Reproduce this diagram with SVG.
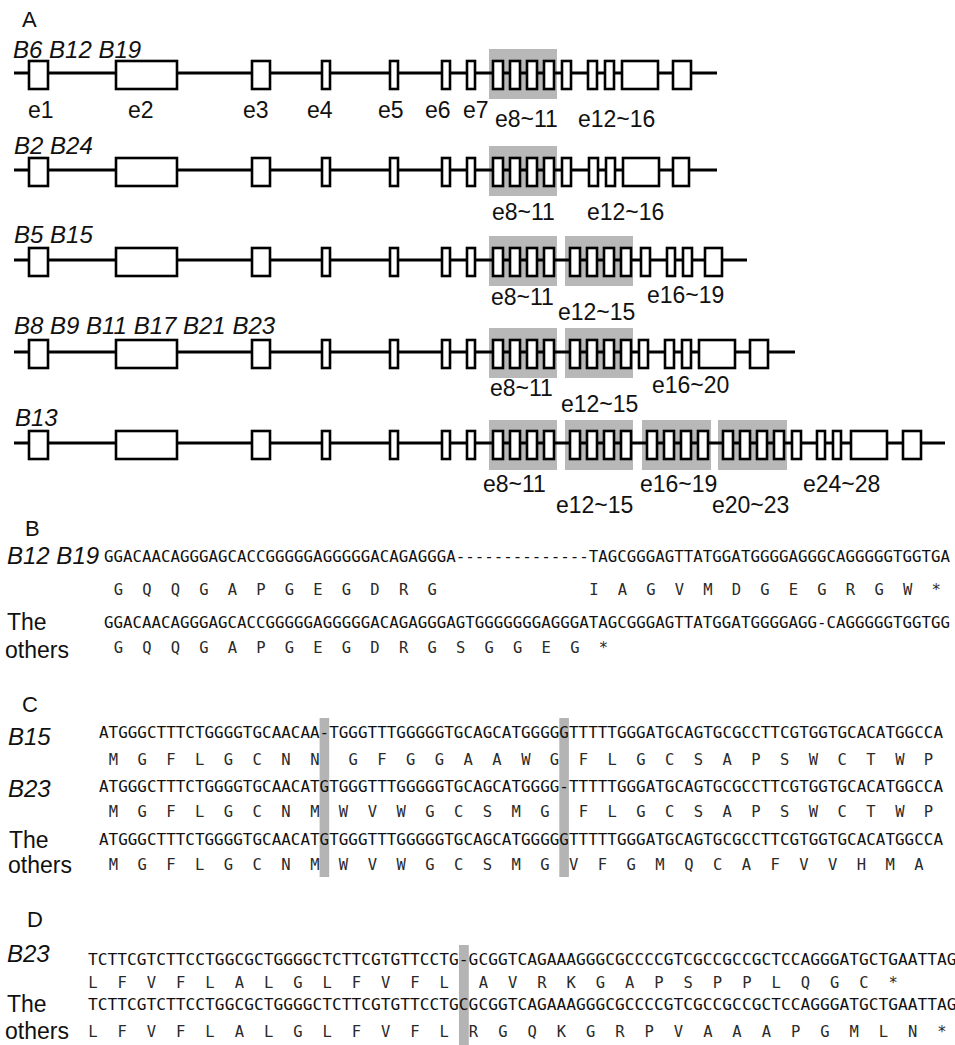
<svg xmlns="http://www.w3.org/2000/svg" width="955" height="1045" viewBox="0 0 955 1045">
<style>
.bb{stroke:#000;stroke-width:3;fill:none}
.ex{fill:#fff;stroke:#000;stroke-width:2.6}
.hl{fill:#b8b8b8}
.lab{font-family:"Liberation Sans",Arial,sans-serif;font-size:23px;fill:#111}
.it{font-style:italic;font-size:24px}
.pl{font-family:"Liberation Sans",Arial,sans-serif;font-size:22px;fill:#111}
.seq{font-family:"DejaVu Sans Mono","Liberation Mono",monospace;fill:#111}
.sb{font-size:15.8px}
.sc{font-size:15.9px}
.sd{font-size:16.2px}
.aa{font-family:"DejaVu Sans Mono","Liberation Mono",monospace;font-size:15.5px;fill:#2a2a2a;text-anchor:middle}
.bar{fill:#b4b4b4}
</style>
<rect width="955" height="1045" fill="#fff"/>

<g id="panelA">
<text class="pl" x="22" y="27">A</text>

<g id="row1">
<rect class="hl" x="489" y="49" width="68" height="50"/>
<line class="bb" x1="14" y1="73" x2="717" y2="73"/>
<rect class="ex" x="29" y="61" width="19" height="28"/>
<rect class="ex" x="116" y="61" width="61" height="28"/>
<rect class="ex" x="252" y="61" width="18" height="28"/>
<rect class="ex" x="322" y="61" width="8" height="28"/>
<rect class="ex" x="390" y="61" width="8" height="28"/>
<rect class="ex" x="442" y="61" width="8" height="28"/>
<rect class="ex" x="467" y="61" width="8" height="28"/>
<rect class="ex" x="493" y="61" width="10" height="28"/>
<rect class="ex" x="510" y="61" width="10" height="28"/>
<rect class="ex" x="527" y="61" width="10" height="28"/>
<rect class="ex" x="544" y="61" width="10" height="28"/>
<rect class="ex" x="562" y="61" width="9" height="28"/>
<rect class="ex" x="588" y="61" width="9" height="28"/>
<rect class="ex" x="605" y="61" width="9" height="28"/>
<rect class="ex" x="622" y="61" width="36" height="28"/>
<rect class="ex" x="673" y="61" width="18" height="28"/>
<text class="lab it" x="13" y="58">B6 B12 B19</text>
<text class="lab" x="28" y="118">e1</text>
<text class="lab" x="128" y="118">e2</text>
<text class="lab" x="243" y="118">e3</text>
<text class="lab" x="307" y="118">e4</text>
<text class="lab" x="378" y="118">e5</text>
<text class="lab" x="425" y="118">e6</text>
<text class="lab" x="463" y="118">e7</text>
<text class="lab" x="495" y="127">e8~11</text>
<text class="lab" x="578" y="127">e12~16</text>
</g>

<g id="row2">
<rect class="hl" x="489" y="146" width="68" height="50"/>
<line class="bb" x1="14" y1="170" x2="717" y2="170"/>
<rect class="ex" x="29" y="158" width="19" height="28"/>
<rect class="ex" x="116" y="158" width="61" height="28"/>
<rect class="ex" x="252" y="158" width="18" height="28"/>
<rect class="ex" x="322" y="158" width="8" height="28"/>
<rect class="ex" x="390" y="158" width="8" height="28"/>
<rect class="ex" x="442" y="158" width="8" height="28"/>
<rect class="ex" x="467" y="158" width="8" height="28"/>
<rect class="ex" x="493" y="158" width="10" height="28"/>
<rect class="ex" x="510" y="158" width="10" height="28"/>
<rect class="ex" x="527" y="158" width="10" height="28"/>
<rect class="ex" x="544" y="158" width="10" height="28"/>
<rect class="ex" x="562" y="158" width="9" height="28"/>
<rect class="ex" x="589" y="158" width="9" height="28"/>
<rect class="ex" x="606" y="158" width="9" height="28"/>
<rect class="ex" x="623" y="158" width="36" height="28"/>
<rect class="ex" x="673" y="158" width="16" height="28"/>
<text class="lab it" x="14" y="154">B2 B24</text>
<text class="lab" x="492" y="220">e8~11</text>
<text class="lab" x="587" y="220">e12~16</text>
</g>

<g id="row3">
<rect class="hl" x="489" y="236" width="68" height="50"/>
<rect class="hl" x="565" y="236" width="68" height="50"/>
<line class="bb" x1="14" y1="260" x2="747" y2="260"/>
<rect class="ex" x="29" y="248" width="19" height="28"/>
<rect class="ex" x="116" y="248" width="61" height="28"/>
<rect class="ex" x="252" y="248" width="18" height="28"/>
<rect class="ex" x="322" y="248" width="8" height="28"/>
<rect class="ex" x="390" y="248" width="8" height="28"/>
<rect class="ex" x="442" y="248" width="8" height="28"/>
<rect class="ex" x="467" y="248" width="8" height="28"/>
<rect class="ex" x="493" y="248" width="10" height="28"/>
<rect class="ex" x="510" y="248" width="10" height="28"/>
<rect class="ex" x="527" y="248" width="10" height="28"/>
<rect class="ex" x="544" y="248" width="10" height="28"/>
<rect class="ex" x="570" y="248" width="10" height="28"/>
<rect class="ex" x="587" y="248" width="10" height="28"/>
<rect class="ex" x="604" y="248" width="10" height="28"/>
<rect class="ex" x="621" y="248" width="10" height="28"/>
<rect class="ex" x="641" y="248" width="9" height="28"/>
<rect class="ex" x="667" y="248" width="8" height="28"/>
<rect class="ex" x="683" y="248" width="9" height="28"/>
<rect class="ex" x="705" y="248" width="17" height="28"/>
<text class="lab it" x="14" y="243">B5 B15</text>
<text class="lab" x="491" y="305">e8~11</text>
<text class="lab" x="558" y="320">e12~15</text>
<text class="lab" x="647" y="303">e16~19</text>
</g>

<g id="row4">
<rect class="hl" x="489" y="328" width="68" height="50"/>
<rect class="hl" x="565" y="328" width="68" height="50"/>
<line class="bb" x1="14" y1="352" x2="795" y2="352"/>
<rect class="ex" x="29" y="340" width="19" height="28"/>
<rect class="ex" x="116" y="340" width="61" height="28"/>
<rect class="ex" x="252" y="340" width="18" height="28"/>
<rect class="ex" x="322" y="340" width="8" height="28"/>
<rect class="ex" x="390" y="340" width="8" height="28"/>
<rect class="ex" x="442" y="340" width="8" height="28"/>
<rect class="ex" x="467" y="340" width="8" height="28"/>
<rect class="ex" x="493" y="340" width="10" height="28"/>
<rect class="ex" x="510" y="340" width="10" height="28"/>
<rect class="ex" x="527" y="340" width="10" height="28"/>
<rect class="ex" x="544" y="340" width="10" height="28"/>
<rect class="ex" x="570" y="340" width="10" height="28"/>
<rect class="ex" x="587" y="340" width="10" height="28"/>
<rect class="ex" x="604" y="340" width="10" height="28"/>
<rect class="ex" x="621" y="340" width="10" height="28"/>
<rect class="ex" x="639" y="340" width="9" height="28"/>
<rect class="ex" x="665" y="340" width="9" height="28"/>
<rect class="ex" x="682" y="340" width="9" height="28"/>
<rect class="ex" x="699" y="340" width="36" height="28"/>
<rect class="ex" x="750" y="340" width="18" height="28"/>
<text class="lab it" x="14" y="334">B8 B9 B11 B17 B21 B23</text>
<text class="lab" x="490" y="396">e8~11</text>
<text class="lab" x="561" y="412">e12~15</text>
<text class="lab" x="652" y="393">e16~20</text>
</g>

<g id="row5">
<rect class="hl" x="489" y="420" width="68" height="50"/>
<rect class="hl" x="565" y="420" width="68" height="50"/>
<rect class="hl" x="642" y="420" width="69" height="50"/>
<rect class="hl" x="718" y="420" width="69" height="50"/>
<line class="bb" x1="14" y1="443" x2="945" y2="443"/>
<rect class="ex" x="29" y="431" width="19" height="28"/>
<rect class="ex" x="116" y="431" width="61" height="28"/>
<rect class="ex" x="252" y="431" width="18" height="28"/>
<rect class="ex" x="322" y="431" width="8" height="28"/>
<rect class="ex" x="390" y="431" width="8" height="28"/>
<rect class="ex" x="442" y="431" width="8" height="28"/>
<rect class="ex" x="467" y="431" width="8" height="28"/>
<rect class="ex" x="493" y="431" width="10" height="28"/>
<rect class="ex" x="510" y="431" width="10" height="28"/>
<rect class="ex" x="527" y="431" width="10" height="28"/>
<rect class="ex" x="544" y="431" width="10" height="28"/>
<rect class="ex" x="570" y="431" width="10" height="28"/>
<rect class="ex" x="587" y="431" width="10" height="28"/>
<rect class="ex" x="604" y="431" width="10" height="28"/>
<rect class="ex" x="621" y="431" width="10" height="28"/>
<rect class="ex" x="647" y="431" width="10" height="28"/>
<rect class="ex" x="664" y="431" width="10" height="28"/>
<rect class="ex" x="681" y="431" width="10" height="28"/>
<rect class="ex" x="698" y="431" width="10" height="28"/>
<rect class="ex" x="723" y="431" width="10" height="28"/>
<rect class="ex" x="740" y="431" width="10" height="28"/>
<rect class="ex" x="757" y="431" width="10" height="28"/>
<rect class="ex" x="774" y="431" width="10" height="28"/>
<rect class="ex" x="792" y="431" width="9" height="28"/>
<rect class="ex" x="817" y="431" width="8" height="28"/>
<rect class="ex" x="833" y="431" width="8" height="28"/>
<rect class="ex" x="851" y="431" width="36" height="28"/>
<rect class="ex" x="903" y="431" width="18" height="28"/>
<text class="lab it" x="15" y="426">B13</text>
<text class="lab" x="483" y="492">e8~11</text>
<text class="lab" x="556" y="513">e12~15</text>
<text class="lab" x="640" y="492">e16~19</text>
<text class="lab" x="712" y="513">e20~23</text>
<text class="lab" x="803" y="492">e24~28</text>
</g>
</g>

<g id="panelB">
<text class="pl" x="25" y="536">B</text>
<text class="lab it" x="7" y="564">B12 B19</text>
<text class="seq sb" x="104" y="562" textLength="846" lengthAdjust="spacingAndGlyphs">GGACAACAGGGAGCACCGGGGGAGGGGGACAGAGGGA--------------TAGCGGGAGTTATGGATGGGGAGGGCAGGGGGTGGTGA</text>
<text class="aa" y="595" x="118.3 146.8 175.3 203.9 232.4 260.9 289.5 318.0 346.5 375.0 403.6 432.1 593.8 622.3 650.8 679.4 707.9 736.4 765.0 793.5 822.0 850.5 879.1 907.6 936.1">GQQGAPGEGDRGIAGVMDGEGRGW*</text>
<text class="lab" x="7" y="630">The</text>
<text class="lab" x="5" y="658">others</text>
<text class="seq sb" x="104" y="628" textLength="846" lengthAdjust="spacingAndGlyphs">GGACAACAGGGAGCACCGGGGGAGGGGGACAGAGGGAGTGGGGGGGAGGGATAGCGGGAGTTATGGATGGGGAGG-CAGGGGGTGGTGG</text>
<text class="aa" y="653" x="118.3 146.8 175.3 203.9 232.4 260.9 289.5 318.0 346.5 375.0 403.6 432.1 460.6 489.2 517.7 546.2 574.8 603.3">GQQGAPGEGDRGSGGEG*</text>
</g>

<g id="panelC">
<text class="pl" x="22" y="712">C</text>
<rect class="bar" x="319.6" y="718" width="9.6" height="159"/>
<rect class="bar" x="559.3" y="718" width="9.6" height="159"/>
<text class="lab it" x="8" y="745">B15</text>
<text class="seq sc" x="99" y="738" textLength="844" lengthAdjust="spacingAndGlyphs">ATGGGCTTTCTGGGGTGCAACAA-TGGGTTTGGGGGTGCAGCATGGGGGTTTTTGGGATGCAGTGCGCCTTCGTGGTGCACATGGCCA</text>
<text class="aa" y="765" x="113.4 142.2 170.9 199.7 228.5 257.2 286.0 314.8 353.1 381.9 410.7 439.4 468.2 497.0 525.8 554.5 583.3 612.1 640.8 669.6 698.4 727.1 755.9 784.7 813.5 842.2 871.0 899.8 928.5">MGFLGCNNGFGGAAWGFLGCSAPSWCTWP</text>
<text class="lab it" x="8" y="797">B23</text>
<text class="seq sc" x="99" y="792" textLength="844" lengthAdjust="spacingAndGlyphs">ATGGGCTTTCTGGGGTGCAACATGTGGGTTTGGGGGTGCAGCATGGGG-TTTTTGGGATGCAGTGCGCCTTCGTGGTGCACATGGCCA</text>
<text class="aa" y="817" x="113.4 142.2 170.9 199.7 228.5 257.2 286.0 314.8 343.5 372.3 401.1 429.9 458.6 487.4 516.2 544.9 583.3 612.1 640.8 669.6 698.4 727.1 755.9 784.7 813.5 842.2 871.0 899.8 928.5">MGFLGCNMWVWGCSMGFLGCSAPSWCTWP</text>
<text class="lab" x="9" y="848">The</text>
<text class="lab" x="8" y="873">others</text>
<text class="seq sc" x="99" y="845" textLength="844" lengthAdjust="spacingAndGlyphs">ATGGGCTTTCTGGGGTGCAACATGTGGGTTTGGGGGTGCAGCATGGGGGTTTTTGGGATGCAGTGCGCCTTCGTGGTGCACATGGCCA</text>
<text class="aa" y="870" x="113.4 142.2 170.9 199.7 228.5 257.2 286.0 314.8 343.5 372.3 401.1 429.9 458.6 487.4 516.2 544.9 573.7 602.5 631.2 660.0 688.8 717.6 746.3 775.1 803.9 832.6 861.4 890.2 918.9">MGFLGCNMWVWGCSMGVFGMQCAFVVHMA</text>
</g>

<g id="panelD">
<text class="pl" x="27" y="927">D</text>
<rect class="bar" x="459" y="945" width="9.8" height="100"/>
<text class="lab it" x="7" y="962">B23</text>
<text class="seq sd" x="88" y="965" textLength="868.6" lengthAdjust="spacingAndGlyphs">TCTTCGTCTTCCTGGCGCTGGGGCTCTTCGTGTTCCTG-GCGGTCAGAAAGGGCGCCCCGTCGCCGCCGCTCCAGGGATGCTGAATTAG</text>
<text class="aa" y="988" x="92.9 122.2 151.4 180.7 210.0 239.3 268.6 297.8 327.1 356.4 385.7 415.0 444.2 483.3 512.6 541.8 571.1 600.4 629.7 659.0 688.2 717.5 746.8 776.1 805.4 834.6 863.9 893.2">LFVFLALGLFVFLAVRKGAPSPPLQGC*</text>
<text class="lab" x="7" y="1012">The</text>
<text class="lab" x="5" y="1039">others</text>
<text class="seq sd" x="88" y="1010" textLength="868.6" lengthAdjust="spacingAndGlyphs">TCTTCGTCTTCCTGGCGCTGGGGCTCTTCGTGTTCCTGCGCGGTCAGAAAGGGCGCCCCGTCGCCGCCGCTCCAGGGATGCTGAATTAG</text>
<text class="aa" y="1037" x="92.9 122.2 151.4 180.7 210.0 239.3 268.6 297.8 327.1 356.4 385.7 415.0 444.2 473.5 502.8 532.1 561.4 590.6 619.9 649.2 678.5 707.8 737.0 766.3 795.6 824.9 854.2 883.4 912.7 942.0">LFVFLALGLFVFLRGQKGRPVAAAPGMLN*</text>
</g>
</svg>
